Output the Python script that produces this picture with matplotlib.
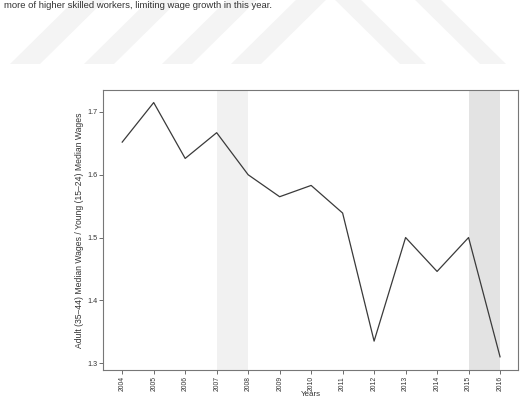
import matplotlib
matplotlib.use("Agg")
import matplotlib.pyplot as plt
from matplotlib.patches import Polygon

years = [2004, 2005, 2006, 2007, 2008, 2009, 2010, 2011, 2012, 2013, 2014, 2015, 2016]
ratio = [1.652, 1.715, 1.626, 1.667, 1.600, 1.565, 1.583, 1.539, 1.335, 1.500, 1.446, 1.500, 1.310]
shade_light = (2007, 2008)
shade_dark = (2015, 2016)
yticks = [1.3, 1.4, 1.5, 1.6, 1.7]
ylabel = "Adult (35\u201344) Median Wages / Young (15\u201324) Median Wages"
xlabel = "Years"
top_text = "more of higher skilled workers, limiting wage growth in this year."

plt.rcParams['font.family'] = ['Liberation Sans', 'DejaVu Sans']

W, H = 529, 398
fig = plt.figure(figsize=(W / 100, H / 100), dpi=100)

# faint watermark chevrons (figure pixel coordinates)
def px(x, y):
    return (x / W, 1 - y / H)

wm_color = '#f4f4f4'
for x0 in [10, 84, 162, 231]:
    pts = [px(x0, 64), px(x0 + 30, 64), px(x0 + 30 + 75, -10), px(x0 + 75, -10)]
    fig.patches.append(Polygon(pts, closed=True, transform=fig.transFigure,
                               facecolor=wm_color, edgecolor='none', zorder=0))
for x0 in [400, 480]:
    pts = [px(x0, 64), px(x0 + 26, 64), px(x0 + 26 - 75, -10), px(x0 - 75, -10)]
    fig.patches.append(Polygon(pts, closed=True, transform=fig.transFigure,
                               facecolor=wm_color, edgecolor='none', zorder=0))

fig.text(4 / W, 1 - 1 / H, top_text, fontsize=6.8, color='#333333',
         ha='left', va='top')

ax = fig.add_axes([103 / W, 1 - 370 / H, (518 - 103) / W, (370 - 90) / H])
ax.set_facecolor('none')

ax.axvspan(*shade_light, color='#f1f1f1', lw=0, zorder=0)
ax.axvspan(*shade_dark, color='#e3e3e3', lw=0, zorder=0)
ax.plot(years, ratio, color='#3a3a3a', lw=0.9, zorder=2)

ax.set_xlim(2003.39, 2016.57)
ax.set_ylim(1.289, 1.735)
ax.set_xticks(years)
ax.set_xticklabels([str(y) for y in years], rotation=90, fontsize=4.9)
ax.set_yticks(yticks)
ax.set_yticklabels([f"{v:.1f}" for v in yticks], fontsize=5.2)
ax.tick_params(direction='out', length=3, width=0.6, color='#555555',
               labelcolor='#333333', pad=1.2)
for s in ax.spines.values():
    s.set_color('#777777')
    s.set_linewidth(0.8)

ax.set_ylabel(ylabel, fontsize=6.2, color='#333333', labelpad=2)
ax.set_xlabel(xlabel, fontsize=5.8, color='#333333')
ax.xaxis.label.set_va('bottom')
ax.xaxis.set_label_coords(0.5, -27.8 / 280)

fig.savefig('out.png', dpi=100)
